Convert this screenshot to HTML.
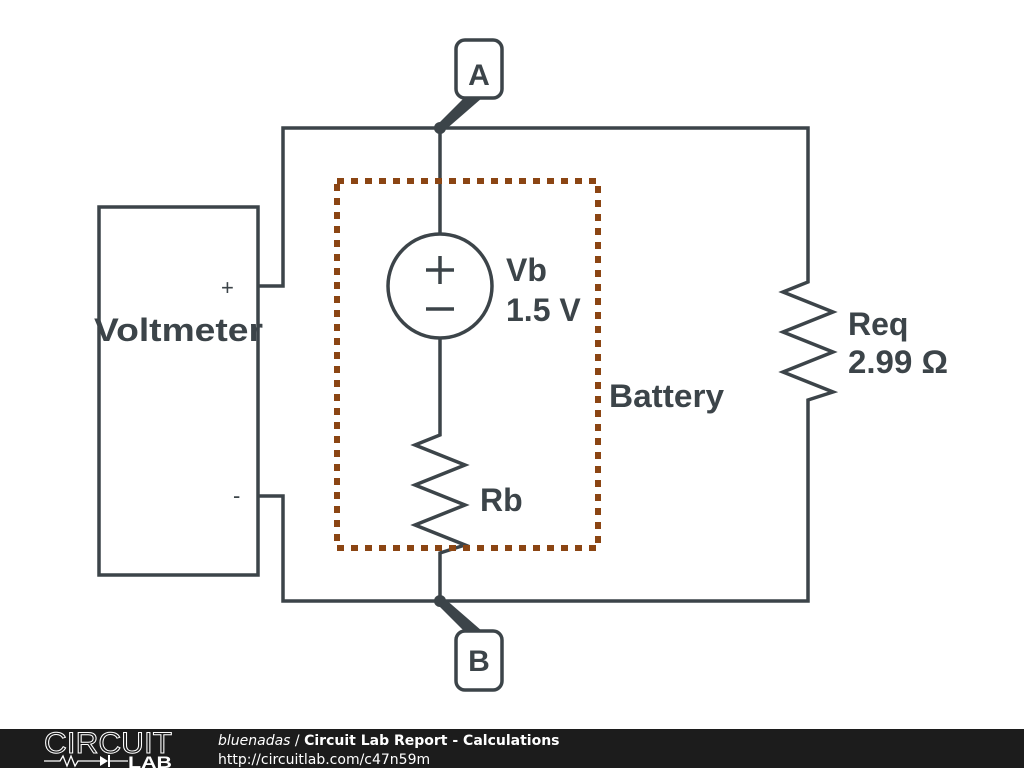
<!DOCTYPE html>
<html><head><style>
html,body{margin:0;padding:0;background:#fff;width:1024px;height:768px;overflow:hidden}
svg{display:block}
</style></head><body>
<svg width="1024" height="768" xmlns="http://www.w3.org/2000/svg">
<g stroke="#3c4449" stroke-width="3.5" fill="none" stroke-linejoin="miter">
<polyline points="258,286 283,286 283,128 808,128 808,282 783,292 833,312 783,332 833,352 783,372 833,392 808,400 808,601 283,601 283,496 258,496"/>
<rect x="99" y="207" width="159" height="368"/>
<line x1="440" y1="128" x2="440" y2="234"/>
<circle cx="440" cy="286" r="52"/>
<polyline points="440,338 440,435 415,445 465,465 415,485 465,505 415,525 465,545 440,553 440,601"/>
<line x1="440" y1="256" x2="440" y2="284"/>
<line x1="426" y1="270" x2="454" y2="270"/>
<line x1="426" y1="309" x2="454" y2="309"/>
<rect x="456" y="40" width="46" height="58" rx="9"/>
<rect x="456" y="631" width="46" height="59" rx="9"/>
</g>
<g fill="#3c4449">
<circle cx="440" cy="128" r="6"/>
<circle cx="440" cy="601" r="6"/>
<polygon points="436,126 444,131 482,98 464,98"/>
<polygon points="436,603 444,598 482,631 464,631"/>
</g>
<rect x="337" y="181" width="261" height="367" fill="none" stroke="#8b4513" stroke-width="6" stroke-dasharray="7 7"/>
<g font-family="Liberation Sans, sans-serif" font-weight="bold" fill="#3c4449" font-size="32">
<text x="479" y="85" text-anchor="middle" font-size="30">A</text>
<text x="479" y="671" text-anchor="middle" font-size="30">B</text>
<text x="506" y="281">Vb</text>
<text x="506" y="321">1.5 V</text>
<text x="848" y="335">Req</text>
<text x="848" y="373" textLength="100" lengthAdjust="spacingAndGlyphs">2.99 Ω</text>
<text x="609" y="407" textLength="115" lengthAdjust="spacingAndGlyphs">Battery</text>
<text x="480" y="511">Rb</text>
<text x="94" y="341" textLength="169" lengthAdjust="spacingAndGlyphs">Voltmeter</text>
</g>
<g font-family="Liberation Sans, sans-serif" fill="#3c4449" font-size="22">
<text x="221" y="295">+</text>
<text x="233" y="503">-</text>
</g>
<rect x="0" y="729" width="1024" height="39" fill="#1c1c1c"/>
<text x="44" y="753" font-family="Liberation Sans, sans-serif" font-size="30" textLength="128" lengthAdjust="spacingAndGlyphs" fill="none" stroke="#fff" stroke-width="1">CIRCUIT</text>
<polyline points="44,761 60,761 63,756 67,766 71,756 75,766 78,761 100,761" fill="none" stroke="#fff" stroke-width="1.3"/>
<polygon points="100,756 100,766 108,761" fill="#fff"/>
<line x1="109" y1="755" x2="109" y2="767" stroke="#fff" stroke-width="2"/>
<line x1="109" y1="761" x2="128" y2="761" stroke="#fff" stroke-width="1.3"/>
<text x="128" y="768" font-family="Liberation Sans, sans-serif" font-weight="bold" font-size="17" textLength="44" lengthAdjust="spacingAndGlyphs" fill="#fff">LAB</text>
<text x="218" y="745" font-family="DejaVu Sans, sans-serif" font-size="14" fill="#fff"><tspan font-style="italic">bluenadas</tspan> / <tspan font-weight="bold">Circuit Lab Report - Calculations</tspan></text>
<text x="218" y="764" font-family="DejaVu Sans, sans-serif" font-size="14" fill="#fff">http://circuitlab.com/c47n59m</text>
</svg>
</body></html>
